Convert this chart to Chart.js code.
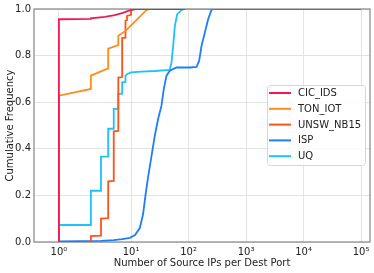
<!DOCTYPE html>
<html>
<head>
<meta charset="utf-8">
<script src="https://cdn.jsdelivr.net/npm/chart.js@4.4.1/dist/chart.umd.min.js"></script>
<style>
  html, body { margin: 0; padding: 0; background: #fff; }
  canvas { display: block; }
</style>
</head>
<body>
<canvas id="myChart" width="374" height="273"></canvas>
<script>
// series: x = number of source IPs per dest port, y = cumulative frequency
const seriesNames = ['CIC_IDS', 'TON_IOT', 'UNSW_NB15', 'ISP', 'UQ'];
const seriesColors = ['#f5174f', '#ff8c1f', '#ff5319', '#1f7dfa', '#1ec2fa'];

const cicX = [1, 1, 2, 2, 3.5, 5.2, 7.2, 10, 12, 87];
const cicY = [0, 0.956, 0.958, 0.960, 0.966, 0.974, 0.983, 0.996, 1.0, 1.0];

const tonX = [1, 1, 2, 2, 4, 4, 6, 6, 8, 10, 18.6, 21];
const tonY = [0, 0.628, 0.657, 0.714, 0.745, 0.830, 0.845, 0.885, 0.906, 0.930, 0.996, 1.0];

const unswX = [2, 2, 3, 3, 4, 4, 5, 5, 6, 6, 7, 7, 8, 8, 8.5, 8.5, 10, 10, 12];
const unswY = [0, 0.025, 0.027, 0.100, 0.102, 0.260, 0.262, 0.475, 0.477, 0.706, 0.708, 0.875, 0.877, 0.950, 0.952, 0.970, 0.975, 0.996, 1.0];

const ispX = [1, 1, 3, 5, 7, 9.5, 11.7, 14.2, 16.2, 17.8, 19.8, 22.7, 25.9, 29.6, 33.8, 37.1, 41.4, 47.2, 61.8, 105, 138, 153, 168, 192, 219, 250, 267, 100000];
const ispY = [0, 0.003, 0.005, 0.008, 0.012, 0.018, 0.030, 0.060, 0.120, 0.200, 0.280, 0.370, 0.457, 0.529, 0.585, 0.657, 0.714, 0.735, 0.749, 0.749, 0.752, 0.778, 0.842, 0.899, 0.956, 0.996, 1.0, 1.0];

const uqX = [1, 1, 2, 2, 3, 3, 4, 4, 5, 5, 6, 6, 7, 7, 8, 8, 8.5, 10, 15, 26, 47, 50.5, 54, 57.7, 63.3, 75.6, 86, 100000];
const uqY = [0, 0.073, 0.073, 0.220, 0.220, 0.366, 0.366, 0.486, 0.486, 0.571, 0.571, 0.635, 0.637, 0.685, 0.687, 0.714, 0.720, 0.728, 0.731, 0.734, 0.739, 0.771, 0.842, 0.927, 0.977, 0.996, 1.0, 1.0];

const xTicks = [1, 10, 100, 1000, 10000, 100000];
const xTickLabels = ['10\u2070', '10\u00b9', '10\u00b2', '10\u00b3', '10\u2074', '10\u2075'];
const yTicks = [0, 0.2, 0.4, 0.6, 0.8, 1.0];

const X_MIN = 0.22, X_MAX = 143000;

// symmetric log axis (linear below 2, log above), like matplotlib's symlog
const LINTHRESH = 2;
const LINSCALE = 1 / (1 - 1 / 10);
function symlog(v) {
    if (v <= LINTHRESH) return v / LINTHRESH * LINSCALE;
    return LINSCALE + Math.log10(v / LINTHRESH);
}
function symlogInv(d) {
    if (d <= LINSCALE) return d / LINSCALE * LINTHRESH;
    return LINTHRESH * Math.pow(10, d - LINSCALE);
}

class SymLogScale extends Chart.LinearScale {
    determineDataLimits() {
        this.min = symlog(this.options.min);
        this.max = symlog(this.options.max);
    }
    buildTicks() {
        return xTicks.map(v => ({value: v}));
    }
    getPixelForValue(value) {
        return this.getPixelForDecimal((symlog(value) - this.min) / (this.max - this.min));
    }
    getValueForPixel(pixel) {
        return symlogInv(this.min + this.getDecimalForPixel(pixel) * (this.max - this.min));
    }
}
SymLogScale.id = 'symlog';
SymLogScale.defaults = Chart.LinearScale.defaults;
Chart.register(SymLogScale);

function toPoints(xs, ys) {
    return xs.map((x, i) => ({x: x, y: ys[i]}));
}
const allX = [cicX, tonX, unswX, ispX, uqX];
const allY = [cicY, tonY, unswY, ispY, uqY];

const frame = {
    id: 'frame',
    beforeDatasetsDraw(chart) {
        const a = chart.chartArea, ctx = chart.ctx;
        ctx.save();
        ctx.strokeStyle = '#8f8f8f';
        ctx.lineWidth = 1.3;
        ctx.strokeRect(a.left, a.top, a.right - a.left, a.bottom - a.top);
        ctx.restore();
    }
};

const boxLegend = {
    id: 'boxLegend',
    afterDatasetsDraw(chart) {
        const ctx = chart.ctx;
        const x0 = 267, y0 = 85, w = 98, h = 80, r = 3;
        ctx.save();
        ctx.beginPath();
        ctx.roundRect(x0 + 0.5, y0 + 0.5, w, h, r);
        ctx.fillStyle = 'rgba(255,255,255,0.85)';
        ctx.fill();
        ctx.strokeStyle = '#d6d6d6';
        ctx.lineWidth = 1;
        ctx.stroke();
        ctx.font = '10px "DejaVu Sans"';
        ctx.textBaseline = 'middle';
        chart.data.datasets.forEach((ds, i) => {
            const y = 93 + i * 15.8;
            ctx.strokeStyle = ds.borderColor;
            ctx.lineWidth = 2;
            ctx.beginPath();
            ctx.moveTo(269, y);
            ctx.lineTo(291, y);
            ctx.stroke();
            ctx.fillStyle = '#222';
            ctx.fillText(ds.label, 298, y + 0.5);
        });
        ctx.restore();
    }
};

Chart.defaults.font.family = '"DejaVu Sans"';
Chart.defaults.font.size = 10;
Chart.defaults.color = '#222';

let myChart = new Chart(document.getElementById('myChart').getContext('2d'), {
    type: 'line',
    data: {
        datasets: seriesNames.map((name, i) => ({
            label: name,
            data: toPoints(allX[i], allY[i]),
            borderColor: seriesColors[i],
            borderWidth: 1.8,
            pointRadius: 0,
            fill: false,
            tension: 0
        }))
    },
    options: {
        responsive: false,
        animation: false,
        layout: {padding: {top: 8, right: 4, left: 0, bottom: 0}},
        plugins: {legend: {display: false}, tooltip: {enabled: false}},
        scales: {
            x: {
                type: 'symlog',
                min: X_MIN,
                max: X_MAX,
                afterFit: s => { s.height = 31; s.paddingLeft = 0; s.paddingRight = 0; },
                grid: {color: '#e3e3e3', drawTicks: false},
                border: {display: false},
                ticks: {
                    autoSkip: false,
                    maxRotation: 0,
                    padding: 4,
                    callback: (v, i) => xTickLabels[i]
                },
                title: {display: true, text: 'Number of Source IPs per Dest Port', padding: {top: 2, bottom: 4}}
            },
            y: {
                min: 0,
                max: 1,
                afterBuildTicks: s => { s.ticks = yTicks.map(v => ({value: v})); },
                afterFit: s => { s.width = 34; },
                grid: {color: '#e3e3e3', drawTicks: false},
                border: {display: false},
                ticks: {padding: 3, callback: v => v.toFixed(1)},
                title: {display: true, text: 'Cumulative Frequency', padding: {top: 4, bottom: 2}}
            }
        }
    },
    plugins: [frame, boxLegend]
});
</script>
</body>
</html>
